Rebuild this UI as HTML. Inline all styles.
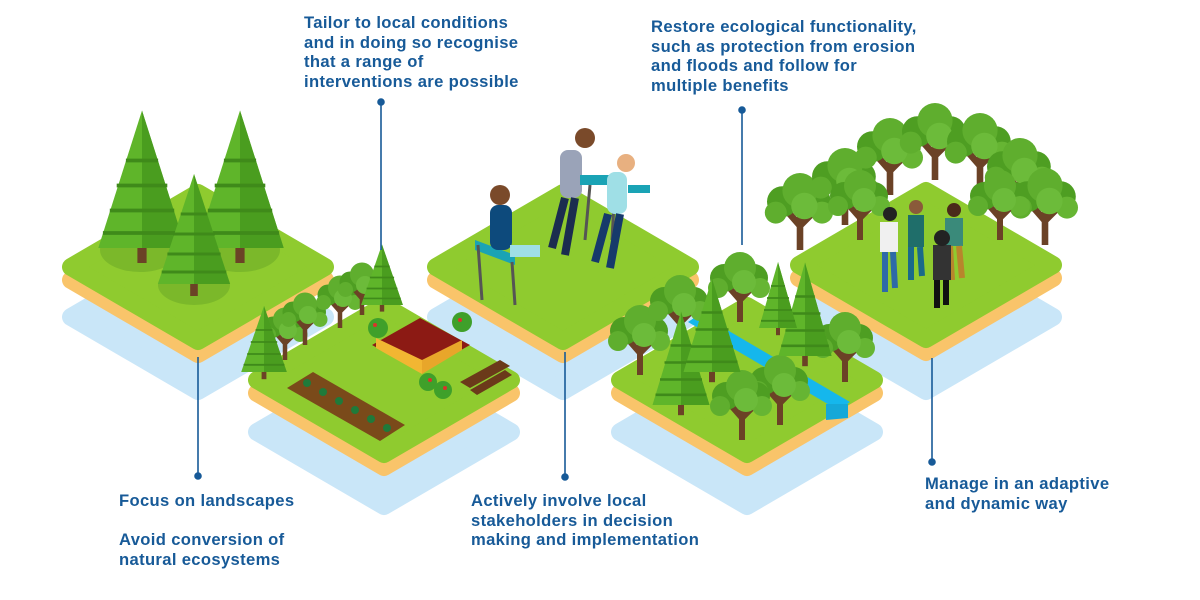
<!DOCTYPE html>
<html><head><meta charset="utf-8"><style>
html,body{margin:0;padding:0;background:#fff;}
body{width:1200px;height:600px;position:relative;overflow:hidden;font-family:"Liberation Sans",sans-serif;}
.t{position:absolute;color:#175a98;font-weight:bold;font-size:16.6px;letter-spacing:0.35px;line-height:19.7px;white-space:nowrap;}
svg{position:absolute;left:0;top:0;}
</style></head><body>
<svg width="1200" height="600" viewBox="0 0 1200 600">
<defs>
<g id="conif">
 <polygon points="0,-110 -38,0 38,0" fill="#5fb52a"/>
 <polygon points="0,-110 0,0 38,0" fill="#4a9d1f"/>
 <path d="M-14,-70 L14,-70 M-22,-50 L22,-50 M-28,-30 L28,-30 M-34,-12 L34,-12" stroke="#3f8a1a" stroke-width="3"/>
 <rect x="-4" y="0" width="8" height="12" fill="#6b4226"/>
</g>
<g id="decid">
 <path d="M0,0 L0,-30 M0,-22 L-14,-38 M0,-22 L14,-36" stroke="#6b4226" stroke-width="6" fill="none"/>
 <circle cx="-16" cy="-44" r="14" fill="#4e9e22"/>
 <circle cx="14" cy="-44" r="14" fill="#4e9e22"/>
 <circle cx="0" cy="-54" r="16" fill="#5fae2e"/>
 <circle cx="-22" cy="-34" r="10" fill="#5fae2e"/>
 <circle cx="20" cy="-34" r="10" fill="#66b533"/>
 <circle cx="4" cy="-40" r="12" fill="#6cbb3a"/>
</g>
</defs>
<!-- shadows -->
<g fill="#c9e6f8" stroke="#c9e6f8" stroke-width="18" stroke-linejoin="round">
 <polygon points="71,317 198,243 325,317 198,391"/>
 <polygon points="436,317 563,243 690,317 563,391"/>
 <polygon points="799,317 926,243 1053,317 926,391"/>
 <polygon points="257,432 384,358 511,432 384,506"/>
 <polygon points="620,432 747,358 874,432 747,506"/>
</g>
<!-- back tiles -->
<g stroke-width="18" stroke-linejoin="round">
 <polygon points="71,280 198,206 325,280 198,354" fill="#f9c46a" stroke="#f9c46a"/>
 <polygon points="71,267 198,193 325,267 198,341" fill="#8fcb2f" stroke="#8fcb2f"/>
 <polygon points="436,280 563,206 690,280 563,354" fill="#f9c46a" stroke="#f9c46a"/>
 <polygon points="436,267 563,193 690,267 563,341" fill="#8fcb2f" stroke="#8fcb2f"/>
 <polygon points="799,278 926,204 1053,278 926,352" fill="#f9c46a" stroke="#f9c46a"/>
 <polygon points="799,265 926,191 1053,265 926,339" fill="#8fcb2f" stroke="#8fcb2f"/>
</g>
<!-- tile1 trees -->
<ellipse cx="140" cy="250" rx="40" ry="22" fill="#7bb82a"/>
<ellipse cx="240" cy="250" rx="40" ry="22" fill="#7bb82a"/>
<ellipse cx="194" cy="285" rx="36" ry="20" fill="#7bb82a"/>
<use href="#conif" transform="translate(142,248) scale(1.15,1.25)"/>
<use href="#conif" transform="translate(240,248) scale(1.15,1.25)"/>
<use href="#conif" transform="translate(194,284) scale(0.95,1.0)"/>
<!-- tile3 people -->
<g>
 <polygon points="475,240 515,255 515,265 475,250" fill="#1aa3b5"/>
 <path d="M478,245 L482,300 M512,262 L515,305" stroke="#555" stroke-width="3"/>
 <rect x="490" y="205" width="22" height="45" rx="8" fill="#0d4a7c"/>
 <circle cx="500" cy="195" r="10" fill="#7a4a2a"/>
 <rect x="510" y="245" width="30" height="12" fill="#9fdfe6"/>
 <rect x="560" y="150" width="22" height="48" rx="8" fill="#9aa3b8"/>
 <circle cx="585" cy="138" r="10" fill="#7a4a2a"/>
 <path d="M565,198 L552,248 M575,198 L565,255" stroke="#1b2d4f" stroke-width="8"/>
 <rect x="580" y="175" width="40" height="10" fill="#1aa3b5"/>
 <path d="M590,185 L585,240 M615,185 L612,240" stroke="#555" stroke-width="3"/>
 <rect x="607" y="172" width="20" height="42" rx="8" fill="#9fdfe6"/>
 <circle cx="626" cy="163" r="9" fill="#e8b080"/>
 <path d="M608,214 L595,262 M620,214 L610,268" stroke="#163a6b" stroke-width="8"/>
 <rect x="628" y="185" width="22" height="8" fill="#1aa3b5"/>
</g>
<!-- tile5 trees & people -->
<use href="#decid" transform="translate(800,250) scale(1.1)"/>
<use href="#decid" transform="translate(845,225) scale(1.1)"/>
<use href="#decid" transform="translate(890,195) scale(1.1)"/>
<use href="#decid" transform="translate(935,180) scale(1.1)"/>
<use href="#decid" transform="translate(980,190) scale(1.1)"/>
<use href="#decid" transform="translate(1020,215) scale(1.1)"/>
<use href="#decid" transform="translate(1045,245) scale(1.1)"/>
<use href="#decid" transform="translate(860,240) scale(1.0)"/>
<use href="#decid" transform="translate(1000,240) scale(1.0)"/>
<g>
 <rect x="880" y="222" width="18" height="30" fill="#f0f0f0"/><circle cx="890" cy="214" r="7" fill="#222"/>
 <path d="M885,252 L885,292 M893,252 L895,288" stroke="#2e6aa8" stroke-width="6"/>
 <rect x="908" y="215" width="16" height="32" fill="#1f6e6a"/><circle cx="916" cy="207" r="7" fill="#8a5a3a"/>
 <path d="M911,247 L911,280 M920,247 L922,276" stroke="#1a6a8a" stroke-width="6"/>
 <rect x="945" y="218" width="18" height="28" fill="#3a8a7a"/><circle cx="954" cy="210" r="7" fill="#4a2a1a"/>
 <path d="M950,246 L952,280 M959,246 L962,278" stroke="#b8862c" stroke-width="6"/>
 <rect x="933" y="245" width="18" height="35" fill="#333"/><circle cx="942" cy="238" r="8" fill="#222"/>
 <path d="M937,280 L937,308 M946,280 L946,305" stroke="#111" stroke-width="6"/>
</g>
<!-- front tiles -->
<g stroke-width="18" stroke-linejoin="round">
 <polygon points="257,393 384,319 511,393 384,467" fill="#f9c46a" stroke="#f9c46a"/>
 <polygon points="257,380 384,306 511,380 384,454" fill="#8fcb2f" stroke="#8fcb2f"/>
 <polygon points="620,393 747,319 874,393 747,467" fill="#f9c46a" stroke="#f9c46a"/>
 <polygon points="620,380 747,306 874,380 747,454" fill="#8fcb2f" stroke="#8fcb2f"/>
</g>
<!-- tile2 farm -->
<polygon points="287,388 313,372 405,425 380,441" fill="#7a4a1a"/>
<g fill="#1f7a3a"><circle cx="307" cy="383" r="4"/><circle cx="323" cy="392" r="4"/><circle cx="339" cy="401" r="4"/><circle cx="355" cy="410" r="4"/><circle cx="371" cy="419" r="4"/><circle cx="387" cy="428" r="4"/></g>
<polygon points="372,345 420,318 470,345 422,372" fill="#8c1a14"/>
<polygon points="376,348 422,374 422,360 376,338" fill="#f2b632"/>
<polygon points="422,374 462,350 462,340 422,360" fill="#e8a62a"/>
<g fill="#d9342b"><circle cx="378" cy="328" r="10" fill="#3fa02a"/><circle cx="462" cy="322" r="10" fill="#3fa02a"/><circle cx="428" cy="382" r="9" fill="#3fa02a"/><circle cx="443" cy="390" r="9" fill="#3fa02a"/><circle cx="375" cy="325" r="2"/><circle cx="460" cy="320" r="2"/><circle cx="430" cy="380" r="2"/><circle cx="445" cy="388" r="2"/></g>
<polygon points="460,382 500,360 510,366 470,388" fill="#6b3a1a"/>
<polygon points="470,390 505,370 512,375 477,395" fill="#6b3a1a"/>
<use href="#decid" transform="translate(285,360) scale(0.75)"/>
<use href="#decid" transform="translate(305,345) scale(0.75)"/>
<use href="#decid" transform="translate(340,328) scale(0.75)"/>
<use href="#decid" transform="translate(362,315) scale(0.75)"/>
<use href="#conif" transform="translate(264,372) scale(0.6,0.6)"/>
<use href="#conif" transform="translate(382,305) scale(0.55,0.55)"/>
<!-- tile4 river & trees -->
<polygon points="688,322 700,314 850,402 838,410" fill="#15b7ec"/>
<polygon points="826,404 848,404 848,418 826,420" fill="#15a8d8"/>
<use href="#decid" transform="translate(640,375) scale(1.0)"/>
<use href="#decid" transform="translate(680,345) scale(1.0)"/>
<use href="#decid" transform="translate(740,322) scale(1.0)"/>
<use href="#decid" transform="translate(845,382) scale(1.0)"/>
<use href="#decid" transform="translate(780,425) scale(1.0)"/>
<use href="#decid" transform="translate(742,440) scale(1.0)"/>
<use href="#conif" transform="translate(681,405) scale(0.75,0.85)"/>
<use href="#conif" transform="translate(712,372) scale(0.75,0.85)"/>
<use href="#conif" transform="translate(805,356) scale(0.7,0.85)"/>
<use href="#conif" transform="translate(778,328) scale(0.5,0.6)"/>
<!-- connector lines -->
<g stroke="#175a98" stroke-width="1.6" fill="#175a98">
 <line x1="198" y1="357" x2="198" y2="476"/><circle cx="198" cy="476" r="3"/>
 <line x1="381" y1="102" x2="381" y2="250"/><circle cx="381" cy="102" r="3"/>
 <line x1="565" y1="352" x2="565" y2="477"/><circle cx="565" cy="477" r="3"/>
 <line x1="742" y1="110" x2="742" y2="245"/><circle cx="742" cy="110" r="3"/>
 <line x1="932" y1="358" x2="932" y2="462"/><circle cx="932" cy="462" r="3"/>
</g>
</svg>
<div class="t" style="left:304px;top:13px;">Tailor to local conditions<br>and in doing so recognise<br>that a range of<br>interventions are possible</div>
<div class="t" style="left:651px;top:17px;">Restore ecological functionality,<br>such as protection from erosion<br>and floods and follow for<br>multiple benefits</div>
<div class="t" style="left:119px;top:491px;">Focus on landscapes</div>
<div class="t" style="left:119px;top:530px;">Avoid conversion of<br>natural ecosystems</div>
<div class="t" style="left:471px;top:491px;">Actively involve local<br>stakeholders in decision<br>making and implementation</div>
<div class="t" style="left:925px;top:474px;">Manage in an adaptive<br>and dynamic way</div>
</body></html>
